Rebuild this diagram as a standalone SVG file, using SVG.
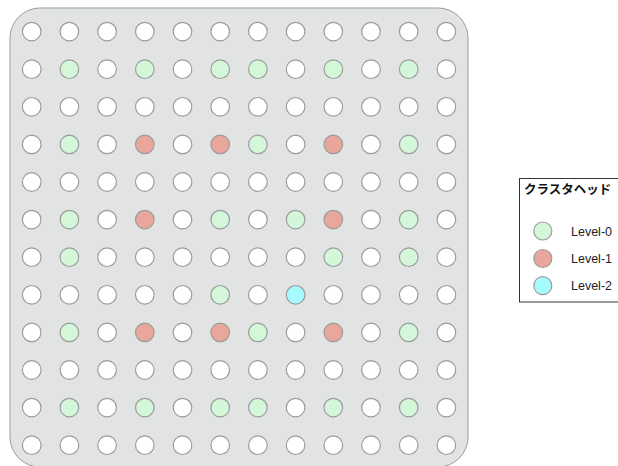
<svg xmlns="http://www.w3.org/2000/svg" width="618" height="466" viewBox="0 0 618 466">
<style>
.n{stroke:#9a9d9b;stroke-width:1.2}
.w{fill:#ffffff}
.g{fill:#d4f7da}
.r{fill:#e9a69a}
.c{fill:#a6fbff}
.lt{font-family:"Liberation Sans","Noto Sans",sans-serif;font-size:12.5px;fill:#222}
.tt{font-family:"Noto Sans CJK JP",sans-serif;font-size:12.5px;font-weight:bold;fill:#111}
</style>
<rect id="field" x="10" y="8" width="458" height="459" rx="30" ry="30" fill="#e1e4e3" stroke="#9a9d9b" stroke-width="1"/>
<g id="nodes">
<g id="r0">
<g id="n0_0"><circle class="n w" cx="31.7" cy="31.6" r="9.3"/></g>
<g id="n0_1"><circle class="n w" cx="69.4" cy="31.6" r="9.3"/></g>
<g id="n0_2"><circle class="n w" cx="107.1" cy="31.6" r="9.3"/></g>
<g id="n0_3"><circle class="n w" cx="144.8" cy="31.6" r="9.3"/></g>
<g id="n0_4"><circle class="n w" cx="182.5" cy="31.6" r="9.3"/></g>
<g id="n0_5"><circle class="n w" cx="220.2" cy="31.6" r="9.3"/></g>
<g id="n0_6"><circle class="n w" cx="257.9" cy="31.6" r="9.3"/></g>
<g id="n0_7"><circle class="n w" cx="295.6" cy="31.6" r="9.3"/></g>
<g id="n0_8"><circle class="n w" cx="333.3" cy="31.6" r="9.3"/></g>
<g id="n0_9"><circle class="n w" cx="371.0" cy="31.6" r="9.3"/></g>
<g id="n0_10"><circle class="n w" cx="408.7" cy="31.6" r="9.3"/></g>
<g id="n0_11"><circle class="n w" cx="446.4" cy="31.6" r="9.3"/></g>
</g>
<g id="r1">
<g id="n1_0"><circle class="n w" cx="31.7" cy="69.2" r="9.3"/></g>
<g id="n1_1"><circle class="n g" cx="69.4" cy="69.2" r="9.3"/></g>
<g id="n1_2"><circle class="n w" cx="107.1" cy="69.2" r="9.3"/></g>
<g id="n1_3"><circle class="n g" cx="144.8" cy="69.2" r="9.3"/></g>
<g id="n1_4"><circle class="n w" cx="182.5" cy="69.2" r="9.3"/></g>
<g id="n1_5"><circle class="n g" cx="220.2" cy="69.2" r="9.3"/></g>
<g id="n1_6"><circle class="n g" cx="257.9" cy="69.2" r="9.3"/></g>
<g id="n1_7"><circle class="n w" cx="295.6" cy="69.2" r="9.3"/></g>
<g id="n1_8"><circle class="n g" cx="333.3" cy="69.2" r="9.3"/></g>
<g id="n1_9"><circle class="n w" cx="371.0" cy="69.2" r="9.3"/></g>
<g id="n1_10"><circle class="n g" cx="408.7" cy="69.2" r="9.3"/></g>
<g id="n1_11"><circle class="n w" cx="446.4" cy="69.2" r="9.3"/></g>
</g>
<g id="r2">
<g id="n2_0"><circle class="n w" cx="31.7" cy="106.8" r="9.3"/></g>
<g id="n2_1"><circle class="n w" cx="69.4" cy="106.8" r="9.3"/></g>
<g id="n2_2"><circle class="n w" cx="107.1" cy="106.8" r="9.3"/></g>
<g id="n2_3"><circle class="n w" cx="144.8" cy="106.8" r="9.3"/></g>
<g id="n2_4"><circle class="n w" cx="182.5" cy="106.8" r="9.3"/></g>
<g id="n2_5"><circle class="n w" cx="220.2" cy="106.8" r="9.3"/></g>
<g id="n2_6"><circle class="n w" cx="257.9" cy="106.8" r="9.3"/></g>
<g id="n2_7"><circle class="n w" cx="295.6" cy="106.8" r="9.3"/></g>
<g id="n2_8"><circle class="n w" cx="333.3" cy="106.8" r="9.3"/></g>
<g id="n2_9"><circle class="n w" cx="371.0" cy="106.8" r="9.3"/></g>
<g id="n2_10"><circle class="n w" cx="408.7" cy="106.8" r="9.3"/></g>
<g id="n2_11"><circle class="n w" cx="446.4" cy="106.8" r="9.3"/></g>
</g>
<g id="r3">
<g id="n3_0"><circle class="n w" cx="31.7" cy="144.4" r="9.3"/></g>
<g id="n3_1"><circle class="n g" cx="69.4" cy="144.4" r="9.3"/></g>
<g id="n3_2"><circle class="n w" cx="107.1" cy="144.4" r="9.3"/></g>
<g id="n3_3"><circle class="n r" cx="144.8" cy="144.4" r="9.3"/></g>
<g id="n3_4"><circle class="n w" cx="182.5" cy="144.4" r="9.3"/></g>
<g id="n3_5"><circle class="n r" cx="220.2" cy="144.4" r="9.3"/></g>
<g id="n3_6"><circle class="n g" cx="257.9" cy="144.4" r="9.3"/></g>
<g id="n3_7"><circle class="n w" cx="295.6" cy="144.4" r="9.3"/></g>
<g id="n3_8"><circle class="n r" cx="333.3" cy="144.4" r="9.3"/></g>
<g id="n3_9"><circle class="n w" cx="371.0" cy="144.4" r="9.3"/></g>
<g id="n3_10"><circle class="n g" cx="408.7" cy="144.4" r="9.3"/></g>
<g id="n3_11"><circle class="n w" cx="446.4" cy="144.4" r="9.3"/></g>
</g>
<g id="r4">
<g id="n4_0"><circle class="n w" cx="31.7" cy="182.0" r="9.3"/></g>
<g id="n4_1"><circle class="n w" cx="69.4" cy="182.0" r="9.3"/></g>
<g id="n4_2"><circle class="n w" cx="107.1" cy="182.0" r="9.3"/></g>
<g id="n4_3"><circle class="n w" cx="144.8" cy="182.0" r="9.3"/></g>
<g id="n4_4"><circle class="n w" cx="182.5" cy="182.0" r="9.3"/></g>
<g id="n4_5"><circle class="n w" cx="220.2" cy="182.0" r="9.3"/></g>
<g id="n4_6"><circle class="n w" cx="257.9" cy="182.0" r="9.3"/></g>
<g id="n4_7"><circle class="n w" cx="295.6" cy="182.0" r="9.3"/></g>
<g id="n4_8"><circle class="n w" cx="333.3" cy="182.0" r="9.3"/></g>
<g id="n4_9"><circle class="n w" cx="371.0" cy="182.0" r="9.3"/></g>
<g id="n4_10"><circle class="n w" cx="408.7" cy="182.0" r="9.3"/></g>
<g id="n4_11"><circle class="n w" cx="446.4" cy="182.0" r="9.3"/></g>
</g>
<g id="r5">
<g id="n5_0"><circle class="n w" cx="31.7" cy="219.6" r="9.3"/></g>
<g id="n5_1"><circle class="n g" cx="69.4" cy="219.6" r="9.3"/></g>
<g id="n5_2"><circle class="n w" cx="107.1" cy="219.6" r="9.3"/></g>
<g id="n5_3"><circle class="n r" cx="144.8" cy="219.6" r="9.3"/></g>
<g id="n5_4"><circle class="n w" cx="182.5" cy="219.6" r="9.3"/></g>
<g id="n5_5"><circle class="n g" cx="220.2" cy="219.6" r="9.3"/></g>
<g id="n5_6"><circle class="n w" cx="257.9" cy="219.6" r="9.3"/></g>
<g id="n5_7"><circle class="n g" cx="295.6" cy="219.6" r="9.3"/></g>
<g id="n5_8"><circle class="n r" cx="333.3" cy="219.6" r="9.3"/></g>
<g id="n5_9"><circle class="n w" cx="371.0" cy="219.6" r="9.3"/></g>
<g id="n5_10"><circle class="n g" cx="408.7" cy="219.6" r="9.3"/></g>
<g id="n5_11"><circle class="n w" cx="446.4" cy="219.6" r="9.3"/></g>
</g>
<g id="r6">
<g id="n6_0"><circle class="n w" cx="31.7" cy="257.2" r="9.3"/></g>
<g id="n6_1"><circle class="n g" cx="69.4" cy="257.2" r="9.3"/></g>
<g id="n6_2"><circle class="n w" cx="107.1" cy="257.2" r="9.3"/></g>
<g id="n6_3"><circle class="n w" cx="144.8" cy="257.2" r="9.3"/></g>
<g id="n6_4"><circle class="n w" cx="182.5" cy="257.2" r="9.3"/></g>
<g id="n6_5"><circle class="n w" cx="220.2" cy="257.2" r="9.3"/></g>
<g id="n6_6"><circle class="n w" cx="257.9" cy="257.2" r="9.3"/></g>
<g id="n6_7"><circle class="n w" cx="295.6" cy="257.2" r="9.3"/></g>
<g id="n6_8"><circle class="n g" cx="333.3" cy="257.2" r="9.3"/></g>
<g id="n6_9"><circle class="n w" cx="371.0" cy="257.2" r="9.3"/></g>
<g id="n6_10"><circle class="n g" cx="408.7" cy="257.2" r="9.3"/></g>
<g id="n6_11"><circle class="n w" cx="446.4" cy="257.2" r="9.3"/></g>
</g>
<g id="r7">
<g id="n7_0"><circle class="n w" cx="31.7" cy="294.8" r="9.3"/></g>
<g id="n7_1"><circle class="n w" cx="69.4" cy="294.8" r="9.3"/></g>
<g id="n7_2"><circle class="n w" cx="107.1" cy="294.8" r="9.3"/></g>
<g id="n7_3"><circle class="n w" cx="144.8" cy="294.8" r="9.3"/></g>
<g id="n7_4"><circle class="n w" cx="182.5" cy="294.8" r="9.3"/></g>
<g id="n7_5"><circle class="n g" cx="220.2" cy="294.8" r="9.3"/></g>
<g id="n7_6"><circle class="n w" cx="257.9" cy="294.8" r="9.3"/></g>
<g id="n7_7"><circle class="n c" cx="295.6" cy="294.8" r="9.3"/></g>
<g id="n7_8"><circle class="n w" cx="333.3" cy="294.8" r="9.3"/></g>
<g id="n7_9"><circle class="n w" cx="371.0" cy="294.8" r="9.3"/></g>
<g id="n7_10"><circle class="n w" cx="408.7" cy="294.8" r="9.3"/></g>
<g id="n7_11"><circle class="n w" cx="446.4" cy="294.8" r="9.3"/></g>
</g>
<g id="r8">
<g id="n8_0"><circle class="n w" cx="31.7" cy="332.4" r="9.3"/></g>
<g id="n8_1"><circle class="n g" cx="69.4" cy="332.4" r="9.3"/></g>
<g id="n8_2"><circle class="n w" cx="107.1" cy="332.4" r="9.3"/></g>
<g id="n8_3"><circle class="n r" cx="144.8" cy="332.4" r="9.3"/></g>
<g id="n8_4"><circle class="n w" cx="182.5" cy="332.4" r="9.3"/></g>
<g id="n8_5"><circle class="n r" cx="220.2" cy="332.4" r="9.3"/></g>
<g id="n8_6"><circle class="n g" cx="257.9" cy="332.4" r="9.3"/></g>
<g id="n8_7"><circle class="n w" cx="295.6" cy="332.4" r="9.3"/></g>
<g id="n8_8"><circle class="n r" cx="333.3" cy="332.4" r="9.3"/></g>
<g id="n8_9"><circle class="n w" cx="371.0" cy="332.4" r="9.3"/></g>
<g id="n8_10"><circle class="n g" cx="408.7" cy="332.4" r="9.3"/></g>
<g id="n8_11"><circle class="n w" cx="446.4" cy="332.4" r="9.3"/></g>
</g>
<g id="r9">
<g id="n9_0"><circle class="n w" cx="31.7" cy="370.0" r="9.3"/></g>
<g id="n9_1"><circle class="n w" cx="69.4" cy="370.0" r="9.3"/></g>
<g id="n9_2"><circle class="n w" cx="107.1" cy="370.0" r="9.3"/></g>
<g id="n9_3"><circle class="n w" cx="144.8" cy="370.0" r="9.3"/></g>
<g id="n9_4"><circle class="n w" cx="182.5" cy="370.0" r="9.3"/></g>
<g id="n9_5"><circle class="n w" cx="220.2" cy="370.0" r="9.3"/></g>
<g id="n9_6"><circle class="n w" cx="257.9" cy="370.0" r="9.3"/></g>
<g id="n9_7"><circle class="n w" cx="295.6" cy="370.0" r="9.3"/></g>
<g id="n9_8"><circle class="n w" cx="333.3" cy="370.0" r="9.3"/></g>
<g id="n9_9"><circle class="n w" cx="371.0" cy="370.0" r="9.3"/></g>
<g id="n9_10"><circle class="n w" cx="408.7" cy="370.0" r="9.3"/></g>
<g id="n9_11"><circle class="n w" cx="446.4" cy="370.0" r="9.3"/></g>
</g>
<g id="r10">
<g id="n10_0"><circle class="n w" cx="31.7" cy="407.6" r="9.3"/></g>
<g id="n10_1"><circle class="n g" cx="69.4" cy="407.6" r="9.3"/></g>
<g id="n10_2"><circle class="n w" cx="107.1" cy="407.6" r="9.3"/></g>
<g id="n10_3"><circle class="n g" cx="144.8" cy="407.6" r="9.3"/></g>
<g id="n10_4"><circle class="n w" cx="182.5" cy="407.6" r="9.3"/></g>
<g id="n10_5"><circle class="n g" cx="220.2" cy="407.6" r="9.3"/></g>
<g id="n10_6"><circle class="n g" cx="257.9" cy="407.6" r="9.3"/></g>
<g id="n10_7"><circle class="n w" cx="295.6" cy="407.6" r="9.3"/></g>
<g id="n10_8"><circle class="n g" cx="333.3" cy="407.6" r="9.3"/></g>
<g id="n10_9"><circle class="n w" cx="371.0" cy="407.6" r="9.3"/></g>
<g id="n10_10"><circle class="n g" cx="408.7" cy="407.6" r="9.3"/></g>
<g id="n10_11"><circle class="n w" cx="446.4" cy="407.6" r="9.3"/></g>
</g>
<g id="r11">
<g id="n11_0"><circle class="n w" cx="31.7" cy="445.2" r="9.3"/></g>
<g id="n11_1"><circle class="n w" cx="69.4" cy="445.2" r="9.3"/></g>
<g id="n11_2"><circle class="n w" cx="107.1" cy="445.2" r="9.3"/></g>
<g id="n11_3"><circle class="n w" cx="144.8" cy="445.2" r="9.3"/></g>
<g id="n11_4"><circle class="n w" cx="182.5" cy="445.2" r="9.3"/></g>
<g id="n11_5"><circle class="n w" cx="220.2" cy="445.2" r="9.3"/></g>
<g id="n11_6"><circle class="n w" cx="257.9" cy="445.2" r="9.3"/></g>
<g id="n11_7"><circle class="n w" cx="295.6" cy="445.2" r="9.3"/></g>
<g id="n11_8"><circle class="n w" cx="333.3" cy="445.2" r="9.3"/></g>
<g id="n11_9"><circle class="n w" cx="371.0" cy="445.2" r="9.3"/></g>
<g id="n11_10"><circle class="n w" cx="408.7" cy="445.2" r="9.3"/></g>
<g id="n11_11"><circle class="n w" cx="446.4" cy="445.2" r="9.3"/></g>
</g>
</g>
<g id="legend">
<rect x="519.5" y="178.5" width="120" height="123.5" fill="#ffffff" stroke="#333333" stroke-width="1"/>
<text class="tt" x="524" y="193.5">クラスタヘッド</text>
<g id="legend-l0"><circle class="n g" cx="542.8" cy="231" r="9"/><text class="lt" x="571" y="235.5">Level-0</text></g>
<g id="legend-l1"><circle class="n r" cx="542.8" cy="258.5" r="9"/><text class="lt" x="571" y="263">Level-1</text></g>
<g id="legend-l2"><circle class="n c" cx="542.8" cy="285.7" r="9"/><text class="lt" x="571" y="290.2">Level-2</text></g>
</g>
</svg>
